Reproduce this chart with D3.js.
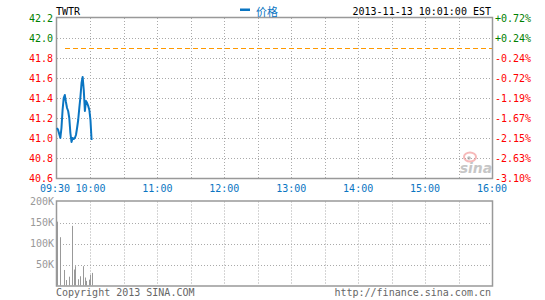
<!DOCTYPE html>
<html><head><meta charset="utf-8">
<script src="https://cdn.jsdelivr.net/npm/d3@7"></script>
<style>
html,body{margin:0;padding:0;background:#fff;}
svg{display:block;}
text{font-family:"DejaVu Sans Mono",monospace;font-size:10px;}
</style></head>
<body>
<svg id="c" width="545" height="300"></svg>
<script>
// ---- data ----
const symbol = "TWTR";
const seriesName = "价格";
const stamp = "2013-11-13 10:01:00 EST";
const prevClose = 41.90;
// minutes after 09:30
const minutes = [0,1,2,3,4,5,6,7,8,9,10,11,12,13,14,15,16,17,18,19,20,21,22,23,24,25,26,27,28,29,30,31];
const prices  = [41.10,41.08,41.04,41.00,41.10,41.28,41.40,41.43,41.36,41.30,41.27,41.20,41.05,40.96,41.00,40.99,
                 41.00,41.03,41.10,41.18,41.30,41.41,41.55,41.61,41.48,41.27,41.37,41.35,41.32,41.28,41.18,40.98];
const volumes = [152000,0,0,115000,0,0,37000,0,13000,0,0,21000,0,142000,0,38000,
                 46000,0,0,15000,0,22000,0,46000,0,19000,11000,0,0,14000,25000,30000];
const priceTicks = [42.2,42.0,41.8,41.6,41.4,41.2,41.0,40.8,40.6];
const pctLabels = ["+0.72%","+0.24%","-0.24%","-0.72%","-1.19%","-1.67%","-2.15%","-2.63%","-3.10%"];
const timeTicks = [0,30,90,150,210,270,330,390];
const timeLabels = ["09:30","10:00","11:00","12:00","13:00","14:00","15:00","16:00"];
const volTicks = [200000,150000,100000,50000];
const volLabels = ["200K","150K","100K","50K"];
const copyright = "Copyright 2013 SINA.COM";
const site = "http://finance.sina.com.cn";

// ---- layout ----
const L = 57, R = 492, T = 18, B = 178, VT = 201.5, VB = 285.5;
const svg = d3.select("#c");
const x = d3.scaleLinear().domain([0,390]).range([L,R]);
const y = d3.scaleLinear().domain([40.6,42.2]).range([B,T]);
const yv = d3.scaleLinear().domain([0,200000]).range([VB,VT]);
const gridMin = d3.range(0,391,30);
const green = "#008000", red = "#ff0000", blue = "#0a75c2", gray = "#999";

// grids
function vgrid(y0,y1){
  svg.append("g").selectAll("line").data(gridMin.slice(1,-1)).join("line")
    .attr("x1",d=>Math.round(x(d))+0.5).attr("x2",d=>Math.round(x(d))+0.5)
    .attr("y1",y0).attr("y2",y1)
    .attr("stroke","#aaa").attr("stroke-dasharray","1,2");
}
vgrid(T,B); vgrid(VT,VB);
svg.append("g").selectAll("line").data(priceTicks.slice(1,-1)).join("line")
  .attr("x1",L).attr("x2",R).attr("y1",d=>Math.round(y(d))+0.5).attr("y2",d=>Math.round(y(d))+0.5)
  .attr("stroke","#aaa").attr("stroke-dasharray","1,2");
svg.append("g").selectAll("line").data(volTicks.slice(1)).join("line")
  .attr("x1",L).attr("x2",R).attr("y1",d=>Math.round(yv(d))+0.5).attr("y2",d=>Math.round(yv(d))+0.5)
  .attr("stroke","#aaa").attr("stroke-dasharray","1,2");

// prev close line
svg.append("line").attr("x1",L+8).attr("x2",R).attr("y1",Math.round(y(prevClose))+0.5).attr("y2",Math.round(y(prevClose))+0.5)
  .attr("stroke","#ff9900").attr("stroke-width",1).attr("stroke-dasharray","5,3");

// sina watermark
const wm = svg.append("g").attr("opacity",0.55);
wm.append("ellipse").attr("cx",470).attr("cy",157).attr("rx",6).attr("ry",4.5).attr("fill","none").attr("stroke","#f08080").attr("stroke-width",2);
wm.append("circle").attr("cx",469).attr("cy",158).attr("r",1.8).attr("fill","#888");
wm.append("text").attr("x",476).attr("y",173).attr("text-anchor","middle")
  .style("font-family","DejaVu Sans").style("font-size","14px").style("font-weight","bold").style("font-style","italic")
  .attr("fill","#999").text("sina");

// frames
svg.append("rect").attr("x",L-0.5).attr("y",T-0.5).attr("width",R-L+1).attr("height",B-T+1).attr("fill","none").attr("stroke",gray).attr("stroke-width",1.5);
svg.append("rect").attr("x",L-0.5).attr("y",VT-0.5).attr("width",R-L+1).attr("height",VB-VT+1).attr("fill","none").attr("stroke",gray).attr("stroke-width",1.5);

// price line
svg.append("path").datum(minutes.map((m,i)=>[m,prices[i]]))
  .attr("d",d3.line().x(d=>x(d[0])).y(d=>y(d[1])))
  .attr("fill","none").attr("stroke",blue).attr("stroke-width",2).attr("stroke-linejoin","round");

// volume bars
svg.append("g").selectAll("rect").data(minutes.map((m,i)=>[m,volumes[i]]).filter(d=>d[1]>0)).join("rect")
  .attr("x",d=>Math.round(x(d[0]))).attr("width",1)
  .attr("y",d=>yv(d[1])).attr("height",d=>VB-yv(d[1]))
  .attr("fill",gray);

// left price labels
svg.append("g").selectAll("text").data(priceTicks).join("text")
  .attr("x",53).attr("y",d=>y(d)+3.5).attr("text-anchor","end")
  .attr("fill",d=>d>prevClose?green:red).text(d=>d.toFixed(1));
// right pct labels
svg.append("g").selectAll("text").data(priceTicks).join("text")
  .attr("x",495).attr("y",d=>y(d)+3.5)
  .attr("fill",d=>d>prevClose?green:red).text((d,i)=>pctLabels[i]);
// time labels
svg.append("g").selectAll("text").data(timeTicks).join("text")
  .attr("x",(d,i)=>x(d)-(i===0?2:0)).attr("y",191.5).attr("text-anchor","middle")
  .attr("fill",blue).text((d,i)=>timeLabels[i]);
// volume labels
svg.append("g").selectAll("text").data(volTicks).join("text")
  .attr("x",54).attr("y",d=>yv(d)+3.5).attr("text-anchor","end")
  .attr("fill",gray).text((d,i)=>volLabels[i]);

// header
svg.append("text").attr("x",56).attr("y",15).attr("fill","#000").text(symbol);
svg.append("rect").attr("x",240).attr("y",8.5).attr("width",10).attr("height",2.5).attr("fill",blue);
svg.append("text").attr("x",256).attr("y",15.5).attr("fill",blue)
  .style("font-family","'Noto Sans CJK SC'").style("font-size","11px").text(seriesName);
svg.append("text").attr("x",491).attr("y",15).attr("text-anchor","end").attr("fill","#000").text(stamp);

// footer
svg.append("text").attr("x",56).attr("y",296).attr("fill","#666").text(copyright);
svg.append("text").attr("x",491).attr("y",296).attr("text-anchor","end").attr("fill","#666").text(site);
</script>
</body></html>
